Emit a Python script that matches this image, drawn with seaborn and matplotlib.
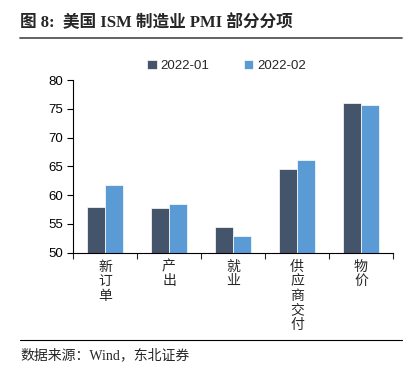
import matplotlib
matplotlib.use("Agg")
import matplotlib.pyplot as plt
import seaborn as sns
import pandas as pd
from matplotlib.lines import Line2D

# Data
categories = ["新\n订\n单", "产\n出", "就\n业", "供\n应\n商\n交\n付", "物\n价"]
jan_2022 = [57.9, 57.8, 54.5, 64.6, 76.1]
feb_2022 = [61.7, 58.5, 52.9, 66.1, 75.6]
series = ["2022-01", "2022-02"]
colors = ["#44546A", "#5B9BD5"]

df = pd.DataFrame({
    "cat": categories * 2,
    "val": jan_2022 + feb_2022,
    "series": [series[0]] * len(categories) + [series[1]] * len(categories),
})

sns.set_style("ticks")
plt.rcParams["font.family"] = ["Liberation Sans", "Noto Sans CJK SC", "DejaVu Sans"]

fig = plt.figure(figsize=(4.16, 3.76), dpi=100)
ax = fig.add_axes([0.1755, 0.328, 0.769, 0.459])

sns.barplot(data=df, x="cat", y="val", hue="series", palette=colors, saturation=1,
            width=0.55, edgecolor="white", linewidth=0.5, ax=ax)

ax.set_ylim(50, 80)
ax.set_yticks(range(50, 81, 5))
ax.set_xlim(-0.5, 4.5)
ax.set_xlabel("")
ax.set_ylabel("")
ax.tick_params(axis="y", labelsize=9.5, length=4, width=0.8, colors="black", pad=3)
ax.tick_params(axis="x", which="major", length=0, labelsize=10, pad=5)
ax.set_xticks([i + 0.5 for i in range(-1, 5)], minor=True)
ax.tick_params(axis="x", which="minor", length=4, width=0.8, direction="out")
for lbl in ax.get_xticklabels():
    lbl.set_family(["Noto Sans CJK SC"])
    lbl.set_linespacing(1.05)
    lbl.set_verticalalignment("top")
for s in ["top", "right"]:
    ax.spines[s].set_visible(False)
for s in ["left", "bottom"]:
    ax.spines[s].set_color("black")
    ax.spines[s].set_linewidth(0.8)

ax.legend(loc="lower center", bbox_to_anchor=(0.48, 1.0), ncol=2, frameon=False,
          fontsize=9.5, handlelength=0.7, handleheight=0.7, handletextpad=0.3,
          columnspacing=2.6, borderaxespad=0.2)

# Title, rules and source
fig.text(0.048, 0.94, "图 8:  美国 ISM 制造业 PMI 部分分项", fontsize=12, fontweight="bold",
         family=["Liberation Serif", "Noto Sans CJK SC"], va="center", ha="left")
fig.add_artist(Line2D([0.048, 0.966], [0.9, 0.9], color="#555555", lw=1.3))
fig.add_artist(Line2D([0.048, 0.966], [0.096, 0.096], color="black", lw=0.8))
fig.text(0.048, 0.056, "数据来源：Wind，东北证券", fontsize=10,
         family=["Liberation Serif", "Noto Sans CJK SC"], va="center", ha="left")

fig.savefig("out.png", dpi=100)
